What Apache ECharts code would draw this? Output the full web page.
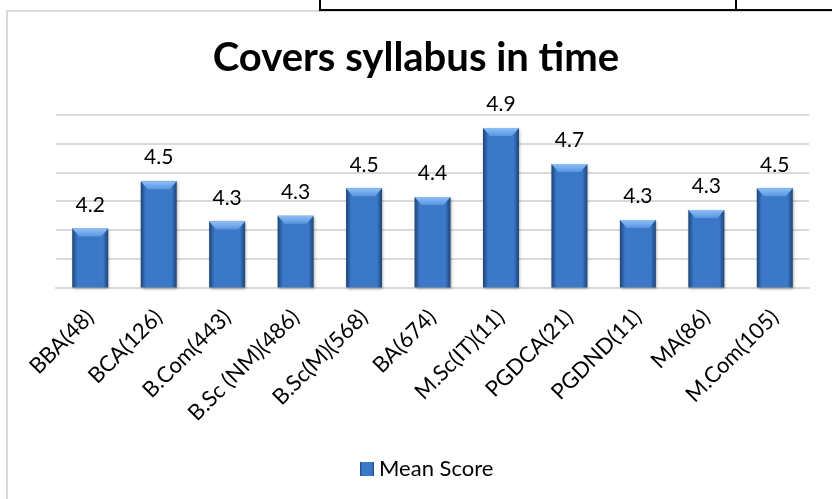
<!DOCTYPE html>
<html>
<head>
<meta charset="utf-8">
<script src="https://cdn.jsdelivr.net/npm/echarts@6/dist/echarts.min.js"></script>
<style>
html,body{margin:0;padding:0;background:#fff;}
#main{width:832px;height:499px;}
</style>
</head>
<body>
<div id="main"></div>
<script>
const categories = ['BBA(48)', 'BCA(126)', 'B.Com(443)', 'B.Sc (NM)(486)', 'B.Sc(M)(568)', 'BA(674)', 'M.Sc(IT)(11)', 'PGDCA(21)', 'PGDND(11)', 'MA(86)', 'M.Com(105)'];
const meanScore = [4.21, 4.54, 4.26, 4.30, 4.49, 4.43, 4.91, 4.66, 4.27, 4.34, 4.49];
const seriesName = 'Mean Score';
const chartTitle = 'Covers syllabus in time';
const yMin = 3.8, yMax = 5.0, yStep = 0.2;

const chart = echarts.init(document.getElementById('main'), null, {renderer: 'canvas'});
const FONT = 'Lato';
const barFill = new echarts.graphic.LinearGradient(0, 0, 1, 0, [
  {offset: 0, color: '#1e4577'},
  {offset: 0.09, color: '#2f63a8'},
  {offset: 0.14, color: '#3b78c7'},
  {offset: 0.86, color: '#3b78c7'},
  {offset: 0.91, color: '#2f63a8'},
  {offset: 1, color: '#1e4577'}
]);
const bevelFill = new echarts.graphic.LinearGradient(0, 0, 0, 1, [
  {offset: 0, color: '#8cc0f7'},
  {offset: 1, color: '#5a95e0'}
]);
chart.setOption({
  animation: false,
  backgroundColor: '#fff',
  title: {
    text: chartTitle,
    left: 'center',
    top: 33,
    textStyle: {fontFamily: FONT, fontWeight: 'bold', fontSize: 40, color: '#000'}
  },
  legend: {
    data: [{name: seriesName, icon: 'rect'}],
    left: 355,
    top: 453,
    itemWidth: 14,
    itemHeight: 14,
    textStyle: {fontFamily: FONT, fontSize: 22, color: '#000'}
  },
  grid: {left: 56, right: 23, top: 115, bottom: 211.5, containLabel: false},
  xAxis: {
    type: 'category',
    data: categories,
    axisLine: {lineStyle: {color: '#d9d9d9', width: 2}},
    axisTick: {show: false},
    axisLabel: {rotate: 45, margin: 26, fontFamily: FONT, fontSize: 22, color: '#000', interval: 0}
  },
  yAxis: {
    type: 'value',
    min: yMin, max: yMax, interval: yStep,
    axisLabel: {show: false},
    axisLine: {show: false},
    axisTick: {show: false},
    splitLine: {lineStyle: {color: '#d9d9d9', width: 2}}
  },
  series: [
    {
      name: seriesName,
      type: 'bar',
      data: meanScore,
      barWidth: 36,
      itemStyle: {
        color: barFill,
        shadowColor: 'rgba(0,0,0,0.35)',
        shadowBlur: 3,
        shadowOffsetX: 1,
        shadowOffsetY: 1
      },
      label: {
        show: true,
        position: 'top',
        distance: 13,
        fontFamily: FONT,
        fontSize: 21,
        color: '#000',
        formatter: p => p.value.toFixed(1)
      }
    },
    {
      name: 'bevel',
      type: 'pictorialBar',
      data: meanScore,
      symbol: 'path://M0,0 L36,0 L29,8 L7,8 Z',
      symbolSize: [36, 8],
      symbolPosition: 'end',
      symbolOffset: [0, 0],
      itemStyle: {color: bevelFill},
      z: 3,
      silent: true,
      tooltip: {show: false}
    }
  ],
  graphic: [
    {type: 'rect', shape: {x: 7, y: 11, width: 900, height: 600}, style: {fill: 'none', stroke: '#d9d9d9', lineWidth: 2}, z: 0},
    {type: 'line', shape: {x1: 319, y1: 10, x2: 832, y2: 10}, style: {stroke: '#000', lineWidth: 2}, z: 10},
    {type: 'line', shape: {x1: 320, y1: 0, x2: 320, y2: 10}, style: {stroke: '#000', lineWidth: 2}, z: 10},
    {type: 'line', shape: {x1: 736, y1: 0, x2: 736, y2: 10}, style: {stroke: '#000', lineWidth: 2}, z: 10}
  ]
});
</script>
</body>
</html>
